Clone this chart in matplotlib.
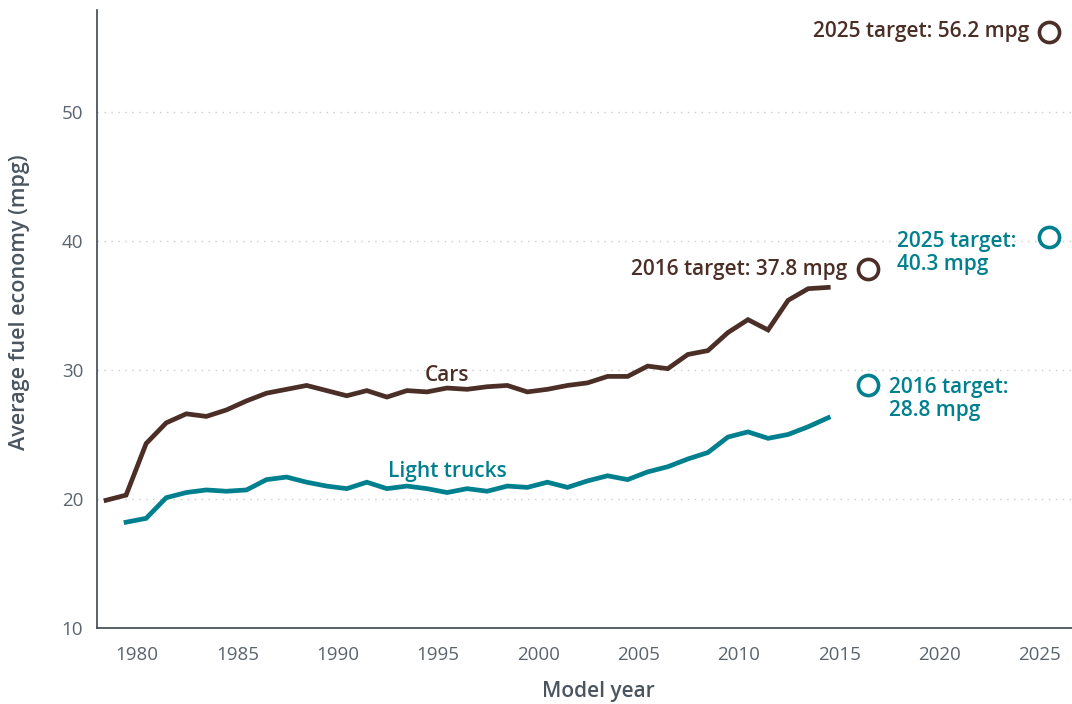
import matplotlib
matplotlib.use("Agg")
import matplotlib.pyplot as plt
import matplotlib.transforms as mtransforms

# ---- data ----
car_years = list(range(1978, 2015))
car_mpg = [19.9, 20.3, 24.3, 25.9, 26.6, 26.4, 26.9, 27.6, 28.2, 28.5,
           28.8, 28.4, 28.0, 28.4, 27.9, 28.4, 28.3, 28.6, 28.5, 28.7,
           28.8, 28.3, 28.5, 28.8, 29.0, 29.5, 29.5, 30.3, 30.1, 31.2,
           31.5, 32.9, 33.9, 33.1, 35.4, 36.3, 36.4]
truck_years = list(range(1979, 2015))
truck_mpg = [18.2, 18.5, 20.1, 20.5, 20.7, 20.6, 20.7, 21.5, 21.7, 21.3,
             21.0, 20.8, 21.3, 20.8, 21.0, 20.8, 20.5, 20.8, 20.6, 21.0,
             20.9, 21.3, 20.9, 21.4, 21.8, 21.5, 22.1, 22.5, 23.1, 23.6,
             24.8, 25.2, 24.7, 25.0, 25.6, 26.3]
target_years = [2016, 2025]
car_targets = [37.8, 56.2]
truck_targets = [28.8, 40.3]
xticks = [1980, 1985, 1990, 1995, 2000, 2005, 2010, 2015, 2020, 2025]
yticks = [10, 20, 30, 40, 50]

CAR = "#4b2f27"
TRUCK = "#00808e"
GRAY = "#4a5560"

plt.rcParams['font.family'] = ['Open Sans', 'DejaVu Sans']

fig = plt.figure(figsize=(10.72, 7.04), dpi=100)
ax = fig.add_axes([97/1072, 1 - 628/704, 1 - 97/1072, 618/704])

ax.plot(car_years, car_mpg, color=CAR, lw=3.4, solid_joinstyle='miter', zorder=3)
ax.plot(truck_years, truck_mpg, color=TRUCK, lw=3.4, solid_joinstyle='miter', zorder=3)

ax.plot(target_years, car_targets, 'o', ms=14.5, mfc='white', mec=CAR, mew=2.6,
        ls='none', zorder=4)
ax.plot(target_years, truck_targets, 'o', ms=14.5, mfc='white', mec=TRUCK, mew=2.6,
        ls='none', zorder=4)

ax.set_xlim(1977.55, 2026.15)
ax.set_ylim(10, 57.9)
ax.set_xticks(xticks)
ax.set_yticks(yticks)
ax.tick_params(length=0, labelsize=13.5, labelcolor='#5a646e')
ax.tick_params(axis='x', pad=13)
ax.tick_params(axis='y', pad=10)
off = mtransforms.ScaledTranslation(-9/100, 0, fig.dpi_scale_trans)
for lab in ax.get_xticklabels():
    lab.set_transform(lab.get_transform() + off)

for y in yticks[1:]:
    ax.axhline(y, color='#cccccc', lw=1.0, ls=(0, (1, 4)), zorder=1)

for s in ['top', 'right']:
    ax.spines[s].set_visible(False)
for s in ['left', 'bottom']:
    ax.spines[s].set_color('#3d4852')
    ax.spines[s].set_linewidth(1.2)

ax.set_xlabel("Model year", fontsize=15, color=GRAY, fontweight='semibold')
ax.set_ylabel("Average fuel economy (mpg)", fontsize=15.5, color=GRAY,
              fontweight='semibold')
ax.xaxis.set_label_coords((598 - 97) / 975, (628 - 691) / 618)
ax.yaxis.set_label_coords((20 - 97) / 975, (628 - 302) / 618)
ax.xaxis.label.set_va('center')
ax.yaxis.label.set_va('center')

tkw = dict(fontsize=15, fontweight='semibold', textcoords='offset pixels')
ax.text(1995.0, 29.6, "Cars", color=CAR, fontsize=15, fontweight='semibold',
        ha='center', va='center')
ax.text(1995.0, 22.15, "Light trucks", color=TRUCK, fontsize=15,
        fontweight='semibold', ha='center', va='center')

ax.annotate("2016 target: 37.8 mpg", xy=(target_years[0], car_targets[0]),
            xytext=(-21, 0), color=CAR, ha='right', va='center', **tkw)
ax.annotate("2025 target: 56.2 mpg", xy=(target_years[1], car_targets[1]),
            xytext=(-20, 0), color=CAR, ha='right', va='center', **tkw)
ax.annotate("2025 target:\n40.3 mpg", xy=(target_years[1], truck_targets[1]),
            xytext=(-152, -16), color=TRUCK, ha='left', va='center',
            linespacing=1.15, **tkw)
ax.annotate("2016 target:\n28.8 mpg", xy=(target_years[0], truck_targets[0]),
            xytext=(21, -13.5), color=TRUCK, ha='left', va='center',
            linespacing=1.15, **tkw)

fig.savefig("out.png", dpi=100)
